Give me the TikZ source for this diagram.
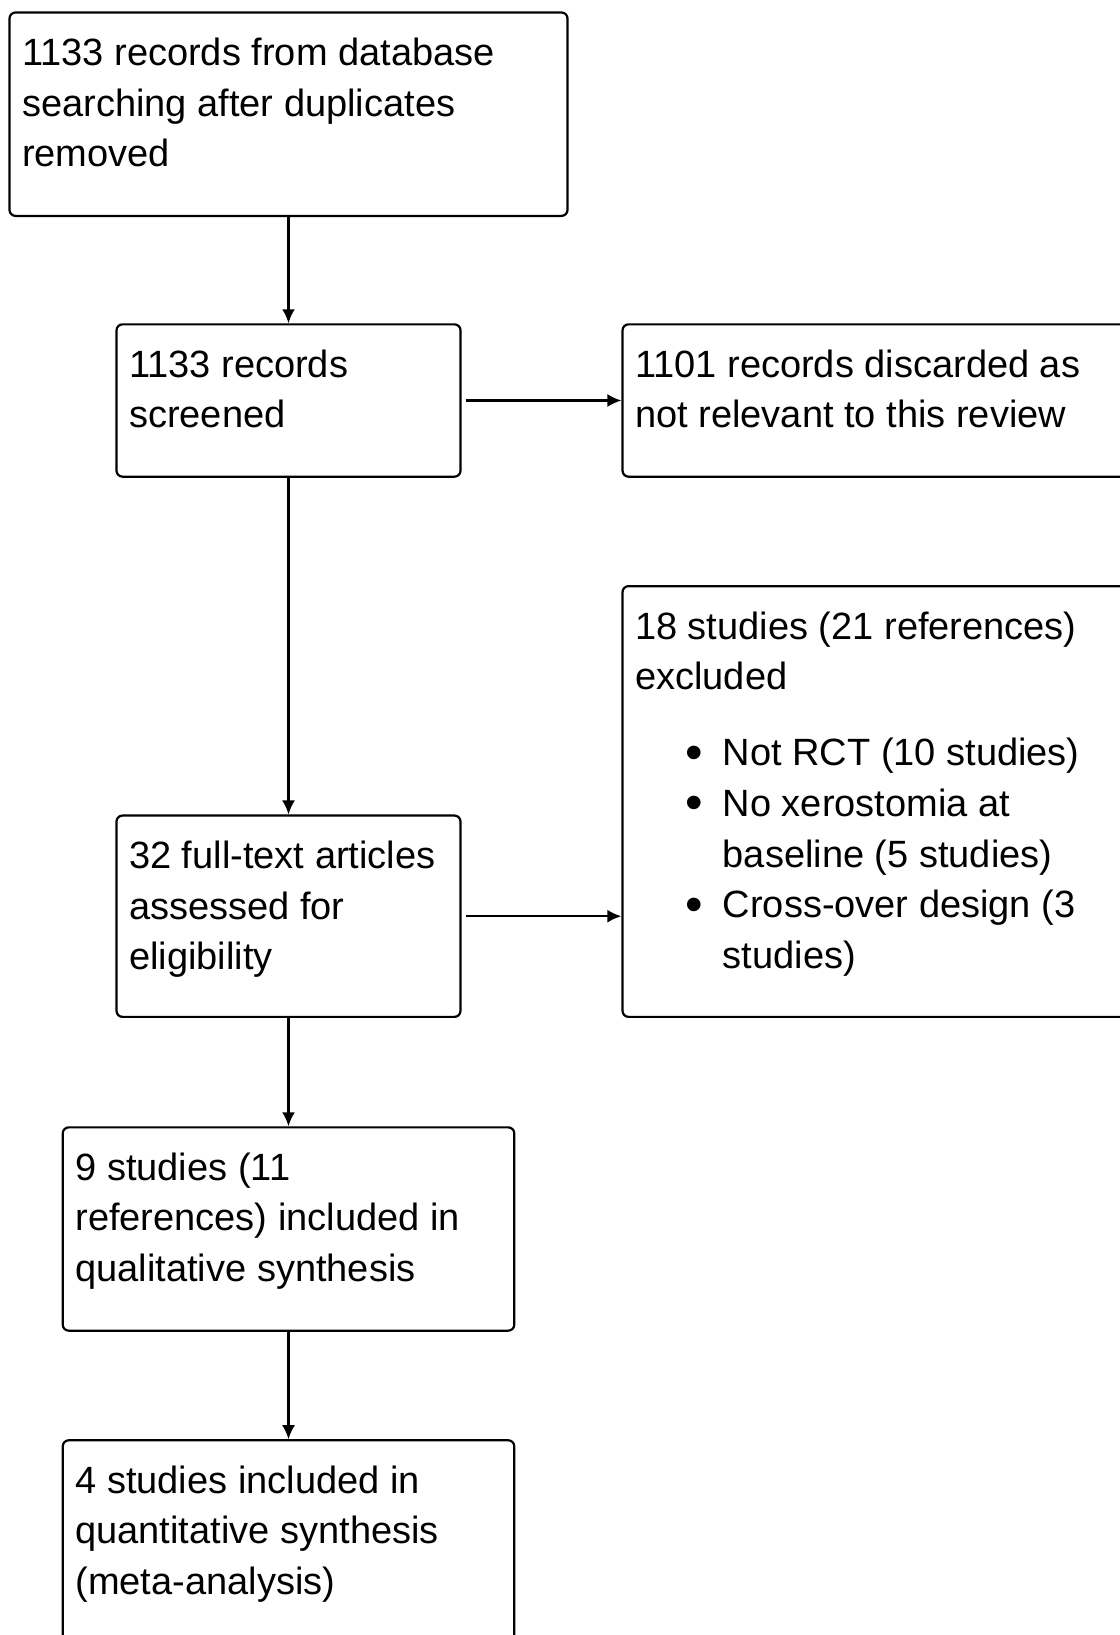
\documentclass[tikz,border=0pt]{standalone}
\usepackage{fontspec}
\setmainfont{Liberation Sans}
\usetikzlibrary{positioning, arrows.meta, calc}
\tikzset{%
  block/.style = {draw, line width = 2.2pt, rectangle, rounded corners = 6pt,
    inner sep = 0pt},
  txt/.style   = {anchor = north west, align = left, inner sep = 0pt,
    font = \fontsize{38}{50.6}\selectfont}, % box text
  flow/.style  = {-{Latex[length = 14pt, width = 13pt]}, line width = 2.2pt}
}
\newcommand{\bulitem}{\hspace*{50pt}\makebox[37.6pt][l]{\raisebox{-3.5pt}{\fontsize{50}{50}\selectfont\textbullet}}}
\newcommand{\hang}{\hspace*{87.6pt}}

\begin{document}
\begin{tikzpicture}[x = 1pt, y = -1pt]
\useasboundingbox (0,0) rectangle (1119,1635);
%flow blocks
\draw
	(288.5,114.2) node [block, minimum width = 558, minimum height = 203.4] (bsearch) {}
	(288.5,400.5) node [block, minimum width = 344, minimum height = 152.3] (bscreen) {}
	(882,400.5) node [block, minimum width = 519, minimum height = 152.3] (bdiscard) {}
	(882,801.5) node [block, minimum width = 519, minimum height = 430.7] (bexcl) {}
	(288.5,916.2) node [block, minimum width = 344, minimum height = 201.3] (bfull) {}
	(288.5,1229) node [block, minimum width = 451.5, minimum height = 203.3] (bqual) {}
	(288.5,1541.8) node [block, minimum width = 451.5, minimum height = 203] (bquant) {};
%block texts
\node [txt] (tsearch) at ($(bsearch.north west)+(13.6,18.5)$)
	{\strut 1133 records from database\\searching after duplicates\\removed};
\node [txt] (tscreen) at ($(bscreen.north west)+(13.6,18.5)$)
	{\strut 1133 records\\screened};
\node [txt] (tdiscard) at ($(bdiscard.north west)+(13.6,18.5)$)
	{\strut 1101 records discarded as\\not relevant to this review};
\node [txt] (texcl) at ($(bexcl.north west)+(13.6,18.5)$)
	{\strut 18 studies (21 references)\\excluded\\[25.5pt]
	\bulitem Not RCT (10 studies)\\
	\bulitem No xerostomia at\\\hang baseline (5 studies)\\
	\bulitem Cross-over design (3\\\hang studies)};
\node [txt] (tfull) at ($(bfull.north west)+(13.6,18.5)$)
	{\strut 32 full-text articles\\assessed for\\eligibility};
\node [txt] (tqual) at ($(bqual.north west)+(13.6,18.5)$)
	{\strut 9 studies (11\\references) included in\\qualitative synthesis};
\node [txt] (tquant) at ($(bquant.north west)+(13.6,18.5)$)
	{\strut 4 studies included in\\quantitative synthesis\\(meta-analysis)};
%main lines
\draw[flow] (bsearch) -- (bscreen);
\draw[flow] (bscreen) -- (bfull);
\draw[flow] (bfull) -- (bqual);
\draw[flow] (bqual) -- (bquant);
%side lines
\draw[flow, shorten <= 4pt] (bscreen.east) -- (bdiscard.west);
\draw[flow, shorten <= 4pt] (bfull.east) -- (bfull.east -| bexcl.west);
\end{tikzpicture}
\end{document}
